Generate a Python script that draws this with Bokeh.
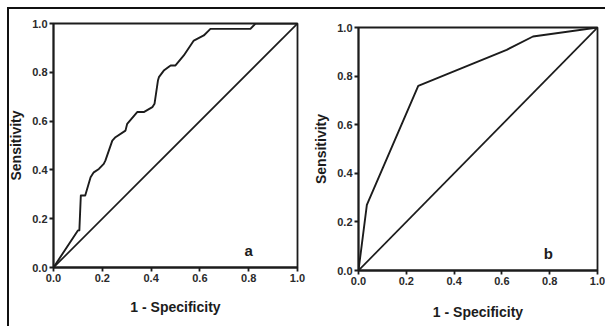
from bokeh.plotting import figure
from bokeh.layouts import row
from bokeh.models import Range1d, FixedTicker, Label
from bokeh.embed import file_html
from bokeh.resources import INLINE

# ---- data ----
ticks = [0.0, 0.2, 0.4, 0.6, 0.8, 1.0]
tick_labels = ["0.0", "0.2", "0.4", "0.6", "0.8", "1.0"]

a_fpr = [0, 0.100, 0.106, 0.112, 0.130, 0.152, 0.165, 0.186, 0.206, 0.213,
         0.241, 0.254, 0.295, 0.302, 0.343, 0.370, 0.405, 0.414, 0.428, 0.432,
         0.452, 0.480, 0.500, 0.534, 0.575, 0.616, 0.636, 0.643, 0.807, 0.828, 1.0]
a_tpr = [0, 0.152, 0.152, 0.295, 0.295, 0.370, 0.390, 0.404, 0.425, 0.439,
         0.520, 0.534, 0.561, 0.589, 0.637, 0.637, 0.657, 0.671, 0.766, 0.780,
         0.807, 0.828, 0.828, 0.869, 0.930, 0.951, 0.971, 0.978, 0.978, 1.0, 1.0]

b_fpr = [0, 0.035, 0.25, 0.62, 0.73, 1.0]
b_tpr = [0, 0.27, 0.76, 0.908, 0.963, 1.0]

ref_x = [0, 1]
ref_y = [0, 1]

x_title = "1 - Specificity"
y_title = "Sensitivity"

INK = "#1c1c1c"
FONT = "Liberation Sans"


def make_panel(w, h, bl, br, bt, bb, fpr, tpr, tag, tag_x, tag_y, ystand, xstand):
    p = figure(width=w, height=h, x_range=Range1d(0, 1), y_range=Range1d(0, 1),
               output_backend="svg", toolbar_location=None,
               min_border_left=bl, min_border_right=br,
               min_border_top=bt, min_border_bottom=bb)
    p.frame_align = False
    p.border_fill_color = None
    p.background_fill_color = "white"
    p.outline_line_color = INK
    p.outline_line_width = 1.8
    p.grid.visible = False

    p.line(ref_x, ref_y, line_color=INK, line_width=1.7)
    p.line(fpr, tpr, line_color=INK, line_width=1.9, line_join="round")

    for ax in (p.xaxis[0], p.yaxis[0]):
        ax.ticker = FixedTicker(ticks=ticks)
        ax.major_label_overrides = {t: l for t, l in zip(ticks, tick_labels)}
        ax.minor_tick_line_color = None
        ax.major_tick_in = 0
        ax.major_tick_out = 4
        ax.major_tick_line_color = INK
        ax.major_tick_line_width = 1.8
        ax.axis_line_color = INK
        ax.axis_line_width = 1.8
        ax.major_label_text_font = FONT
        ax.major_label_text_font_style = "bold"
        ax.major_label_text_font_size = "11px"
        ax.major_label_text_color = "#2a2a2a"
        ax.major_label_standoff = 2
        ax.axis_label_text_font = FONT
        ax.axis_label_text_font_style = "bold"
        ax.axis_label_text_font_size = "14px"
        ax.axis_label_text_color = INK

    p.xaxis.axis_label = x_title
    p.yaxis.axis_label = y_title
    p.yaxis.axis_label_standoff = ystand
    p.xaxis.axis_label_standoff = xstand

    p.add_layout(Label(x=tag_x, y=tag_y, text=tag, text_font=FONT,
                       text_font_style="bold", text_font_size="15px",
                       text_color=INK, text_align="center",
                       text_baseline="middle"))
    return p


pa = make_panel(310, 326, 53, 13, 23, 59, a_fpr, a_tpr, "a", 0.80, 0.068, 5, 14)
pb = make_panel(295, 326, 44, 8, 27, 56, b_fpr, b_tpr, "b", 0.794, 0.07, 5, 16)

frame_css = ("linear-gradient(#111,#111) 7px 7px / 2px 100% no-repeat, "
             "linear-gradient(#111,#111) 7px 7px / 100% 2px no-repeat")
layout = row(pa, pb, styles={"background": frame_css})

open("out.html", "w").write(file_html(layout, INLINE))
